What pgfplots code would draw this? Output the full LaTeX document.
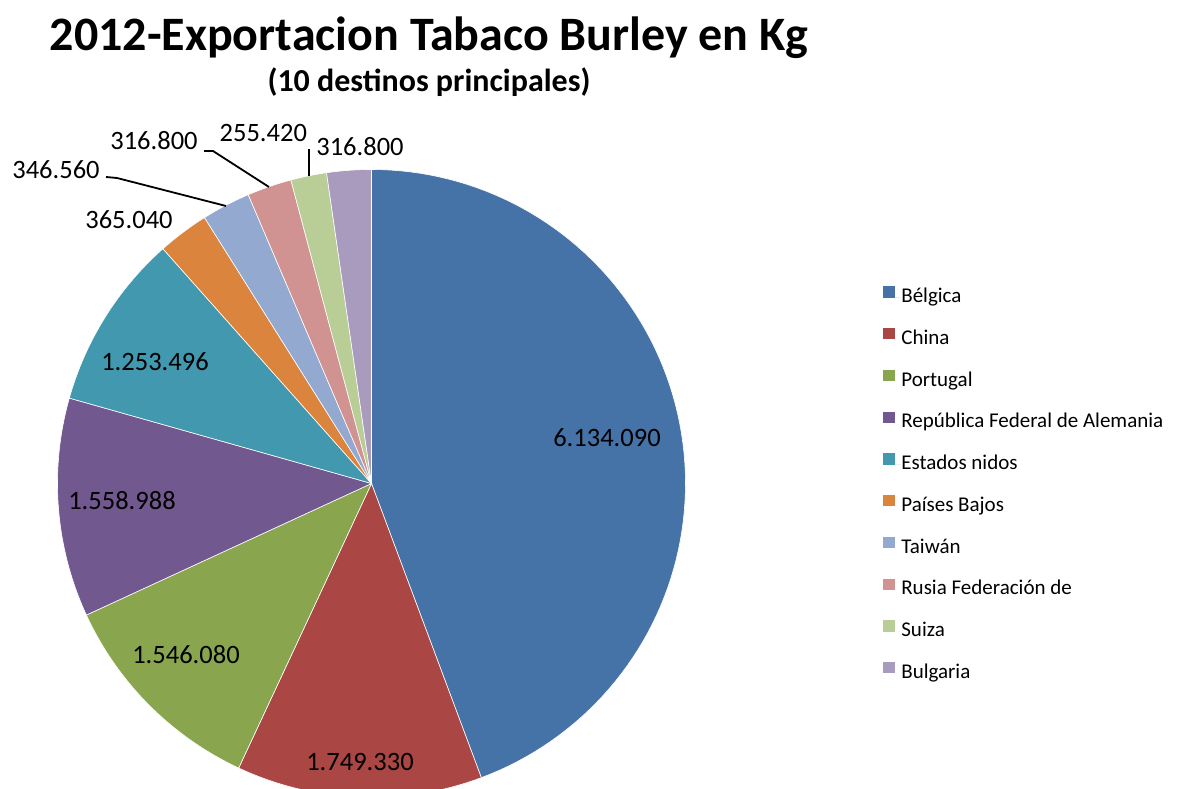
\documentclass[border=0pt]{standalone}
\usepackage{fontspec}
\setmainfont{Carlito}
\usepackage{pgfplots}
\pgfplotsset{compat=1.18}
\definecolor{cA}{HTML}{4572A7}
\definecolor{cB}{HTML}{AA4643}
\definecolor{cC}{HTML}{89A54E}
\definecolor{cD}{HTML}{71588F}
\definecolor{cE}{HTML}{4198AF}
\definecolor{cF}{HTML}{DB843D}
\definecolor{cG}{HTML}{93A9CF}
\definecolor{cH}{HTML}{D19392}
\definecolor{cI}{HTML}{B9CD96}
\definecolor{cJ}{HTML}{A99BBD}
% values in thousands of kg
\def\vA{6134.090}% Belgica
\def\vB{1749.330}% China
\def\vC{1546.080}% Portugal
\def\vD{1558.988}% Alemania
\def\vE{1253.496}% Estados nidos
\def\vF{365.040}% Paises Bajos
\def\vG{346.560}% Taiwan
\def\vH{316.800}% Rusia
\def\vI{255.420}% Suiza
\def\vJ{316.800}% Bulgaria
\pgfmathsetmacro\T{\vA+\vB+\vC+\vD+\vE+\vF+\vG+\vH+\vI+\vJ}
\pgfmathsetmacro\aA{90}
\pgfmathsetmacro\aB{\aA-360*(\vA/\T)}
\pgfmathsetmacro\aC{\aB-360*(\vB/\T)}
\pgfmathsetmacro\aD{\aC-360*(\vC/\T)}
\pgfmathsetmacro\aE{\aD-360*(\vD/\T)}
\pgfmathsetmacro\aF{\aE-360*(\vE/\T)}
\pgfmathsetmacro\aG{\aF-360*(\vF/\T)}
\pgfmathsetmacro\aH{\aG-360*(\vG/\T)}
\pgfmathsetmacro\aI{\aH-360*(\vH/\T)}
\pgfmathsetmacro\aJ{\aI-360*(\vI/\T)}
\pgfmathsetmacro\aK{\aJ-360*(\vJ/\T)}
\def\cx{371.5}
\def\cy{305.5}
\def\rr{314}
\newcommand\slice[3]{%
  \addplot[fill=#1, draw=white, line width=0.6pt, domain=#3:#2, samples=90, variable=\t]
    ({\cx+\rr*cos(\t)},{\cy+\rr*sin(\t)}) -- (axis cs:\cx,\cy) -- cycle;
}
\newcommand\lab{\fontsize{26.5}{30}\selectfont}
\begin{document}
\begin{tikzpicture}
\begin{axis}[
  scale only axis, width=1181pt, height=789pt,
  xmin=0, xmax=1181, ymin=0, ymax=789,
  hide axis, clip=true,
  legend cell align=left,
  legend image code/.code={\fill[#1, draw=none] (0pt,0pt) rectangle (12pt,11.5pt); \path (0pt,0pt) -- (17.7pt,0pt);},
  legend style={at={(0.7477,0.6369)}, anchor=north west, draw=none, fill=none,
    inner sep=0pt, outer sep=0pt, row sep=21.0pt, column sep=0pt,
    font=\fontsize{21}{25}\selectfont,
    nodes={inner sep=0pt, text height=14pt, text depth=4.5pt}},
]
\slice{cA}{\aA}{\aB}\addlegendentry{Bélgica}
\slice{cB}{\aB}{\aC}\addlegendentry{China}
\slice{cC}{\aC}{\aD}\addlegendentry{Portugal}
\slice{cD}{\aD}{\aE}\addlegendentry{República Federal de Alemania}
\slice{cE}{\aE}{\aF}\addlegendentry{Estados nidos}
\slice{cF}{\aF}{\aG}\addlegendentry{Países Bajos}
\slice{cG}{\aG}{\aH}\addlegendentry{Taiwán}
\slice{cH}{\aH}{\aI}\addlegendentry{Rusia Federación de}
\slice{cI}{\aI}{\aJ}\addlegendentry{Suiza}
\slice{cJ}{\aJ}{\aK}\addlegendentry{Bulgaria}
% leader lines
\addplot[forget plot, black, line width=1.8pt] coordinates {(106,612) (117,611) (226,583)};
\addplot[forget plot, black, line width=1.8pt] coordinates {(204,638) (213,638) (269,602)};
\addplot[forget plot, black, line width=1.8pt] coordinates {(309,640) (309,613)};
% data labels
\node[font=\lab, inner sep=0pt] at (axis cs:607,351) {6.134.090};
\node[font=\lab, inner sep=0pt] at (axis cs:360,27) {1.749.330};
\node[font=\lab, inner sep=0pt] at (axis cs:186,134) {1.546.080};
\node[font=\lab, inner sep=0pt] at (axis cs:122,288) {1.558.988};
\node[font=\lab, inner sep=0pt] at (axis cs:155,427) {1.253.496};
\node[font=\lab, inner sep=0pt] at (axis cs:129,569.5) {365.040};
\node[font=\lab, inner sep=0pt] at (axis cs:56,619.5) {346.560};
\node[font=\lab, inner sep=0pt] at (axis cs:154,648.5) {316.800};
\node[font=\lab, inner sep=0pt] at (axis cs:263.3,656) {255.420};
\node[font=\lab, inner sep=0pt] at (axis cs:360,642) {316.800};
% titles
\node[font=\bfseries\fontsize{48}{56}\selectfont, inner sep=0pt, anchor=base] at (axis cs:429,738) {2012-Exportacion Tabaco Burley en Kg};
\node[font=\bfseries\fontsize{32}{38}\selectfont, inner sep=0pt, anchor=base] at (axis cs:429,697) {(10 destinos principales)};
\end{axis}
\pgfresetboundingbox
\path (0pt,0pt) rectangle (1181pt,789pt);
\end{tikzpicture}
\end{document}
